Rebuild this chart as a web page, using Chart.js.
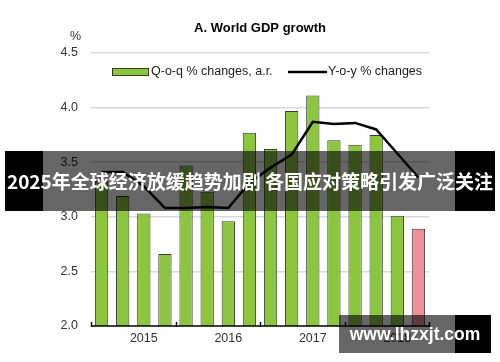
<!DOCTYPE html>
<html>
<head>
<meta charset="utf-8">
<script src="https://cdn.jsdelivr.net/npm/chart.js@4"></script>
<style>
  html, body { margin: 0; padding: 0; background: #fff; }
  #wrap { position: relative; width: 500px; height: 362px; overflow: hidden; }
  #banner {
    position: absolute; left: 5px; top: 151px; width: 490px; height: 60px;
    background: linear-gradient(to right, #000 0, #000 38px, rgba(0,0,0,0.6) 38px, rgba(0,0,0,0.6) 450px, #000 450px);
    color: #fff; font: bold 19px "Noto Sans CJK SC", sans-serif;
    line-height: 60px; text-align: center; white-space: nowrap;
  }
  #mark {
    position: absolute; left: 339px; top: 315px; width: 152px; height: 38px;
    background: linear-gradient(to right, rgba(0,0,0,0.6) 0, rgba(0,0,0,0.6) 116px, #000 116px);
    color: #fff; font: bold 17.5px "Liberation Sans", Arial, sans-serif;
    line-height: 38px; text-align: center; white-space: nowrap;
  }
</style>
</head>
<body>
<div id="wrap">
  <canvas id="gdpChart" width="500" height="362"></canvas>
  <div id="banner">2025年全球经济放缓趋势加剧 各国应对策略引发广泛关注</div>
  <div id="mark">www.lhzxjt.com</div>
</div>
<script>
    // Quarters and the year label shown under the third quarter of each year
    const quarters = ["2015Q1", "2015Q2", "2015Q3", "2015Q4",
                      "2016Q1", "2016Q2", "2016Q3", "2016Q4",
                      "2017Q1", "2017Q2", "2017Q3", "2017Q4",
                      "2018Q1", "2018Q2", "2018Q3", "2018Q4"];
    const yearLabels = ["", "", "2015", "", "", "", "2016", "", "", "", "2017", "", "", "", "2018", ""];

    // Q-o-q % changes, a.r. (last bar is an estimate)
    const qoqValues = [3.33, 3.19, 3.03, 2.66, 3.47, 3.23, 2.96, 3.77,
                       3.62, 3.97, 4.11, 3.70, 3.66, 3.75, 3.01, 2.89];
    // Y-o-y % changes
    const yoyValues = [3.41, 3.41, 3.28, 3.08, 3.08, 3.09, 3.08, 3.31,
                       3.45, 3.57, 3.87, 3.85, 3.86, 3.80, 3.58, 3.36];

    const yTicks = [2.0, 2.5, 3.0, 3.5, 4.0, 4.5];

    const GREEN = "#8cc63f";
    const PINK = "#ee9098";
    const FONT = "'Liberation Sans', Arial, sans-serif";

    // Title, % label, legend and the x axis with upward tick marks
    const decorPlugin = {
        id: "decor",
        afterDraw(chart) {
            const ctx = chart.ctx;
            const area = chart.chartArea;
            ctx.save();

            // axis line and group ticks
            ctx.strokeStyle = "#000";
            ctx.lineWidth = 1.5;
            ctx.beginPath();
            ctx.moveTo(area.left, area.bottom);
            ctx.lineTo(area.right, area.bottom);
            const step = (area.right - area.left) / quarters.length;
            for (let i = 0; i <= quarters.length; i += 4) {
                const px = Math.round(area.left + i * step) + 0.5;
                ctx.moveTo(px, area.bottom - 4);
                ctx.lineTo(px, area.bottom + 1);
            }
            ctx.stroke();

            // title
            ctx.fillStyle = "#000";
            ctx.font = "bold 13px " + FONT;
            ctx.textAlign = "center";
            ctx.textBaseline = "middle";
            ctx.fillText("A. World GDP growth", (area.left + area.right) / 2, 28);

            // % label
            ctx.fillStyle = "#333";
            ctx.font = "12.5px " + FONT;
            ctx.textAlign = "right";
            ctx.fillText("%", 81, 37);

            // legend
            const ds = chart.data.datasets;
            const ly = 72;
            ctx.textAlign = "left";
            ctx.fillStyle = GREEN;
            ctx.fillRect(112, ly - 3.5, 37, 7);
            ctx.strokeStyle = "#3a3a3a";
            ctx.lineWidth = 1;
            ctx.strokeRect(112.5, ly - 3.5, 36, 7);
            ctx.fillStyle = "#222";
            ctx.fillText(ds[0].label, 151, ly);

            ctx.strokeStyle = "#000";
            ctx.lineWidth = 2.5;
            ctx.beginPath();
            ctx.moveTo(288, ly);
            ctx.lineTo(327, ly);
            ctx.stroke();
            ctx.fillText(ds[1].label, 328, ly);

            ctx.restore();
        }
    };

    const ctx = document.getElementById("gdpChart").getContext("2d");
    new Chart(ctx, {
        type: "bar",
        data: {
            labels: quarters,
            datasets: [{
                type: "bar",
                label: "Q-o-q % changes, a.r.",
                data: qoqValues,
                backgroundColor: qoqValues.map((v, i) => i === qoqValues.length - 1 ? PINK : GREEN),
                borderColor: "#3a3a3a",
                borderWidth: 1,
                barPercentage: 0.63,
                categoryPercentage: 1.0,
                order: 2
            }, {
                type: "line",
                label: "Y-o-y % changes",
                data: yoyValues,
                borderColor: "#000",
                borderWidth: 2.5,
                pointRadius: 0,
                tension: 0,
                fill: false,
                order: 1
            }]
        },
        options: {
            responsive: false,
            animation: false,
            layout: { padding: { left: 0, right: 71, top: 53, bottom: 0 } },
            plugins: {
                legend: { display: false },
                title: { display: false },
                tooltip: { enabled: false }
            },
            scales: {
                x: {
                    grid: { display: false, drawTicks: false },
                    border: { display: false },
                    ticks: {
                        autoSkip: false,
                        maxRotation: 0,
                        padding: 5,
                        color: "#333",
                        font: { family: FONT, size: 12.5 },
                        callback: (v, i) => yearLabels[i]
                    },
                    afterFit: s => { s.height = 36; }
                },
                y: {
                    min: 2,
                    max: 4.5,
                    afterBuildTicks: s => { s.ticks = yTicks.map(v => ({ value: v })); },
                    grid: {
                        drawTicks: false,
                        lineWidth: 1.5,
                        color: c => c.tick && c.tick.value === 2 ? "rgba(0,0,0,0)" : "#dadada"
                    },
                    border: { display: false },
                    ticks: {
                        padding: 13,
                        color: "#333",
                        font: { family: FONT, size: 12.5 },
                        callback: v => v.toFixed(1)
                    },
                    afterFit: s => { s.width = 91; }
                }
            }
        },
        plugins: [decorPlugin]
    });
</script>
</body>
</html>
